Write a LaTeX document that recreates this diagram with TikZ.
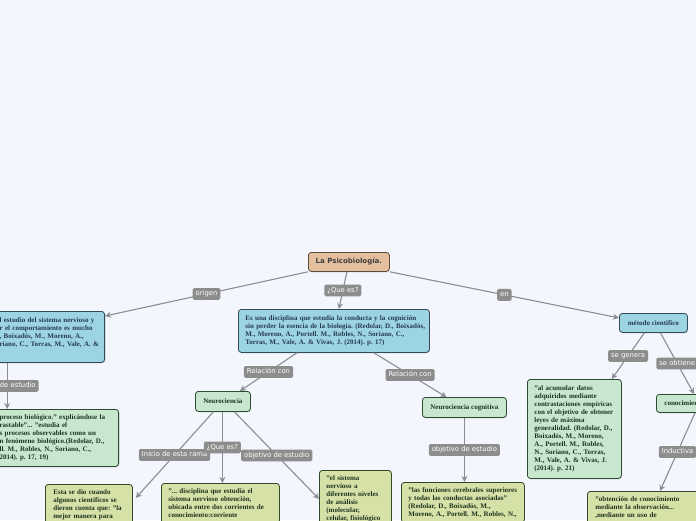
\documentclass[tikz,border=0pt]{standalone}
\usepackage{fontspec}
\setmainfont{Liberation Serif}
\newfontfamily\lblfont{DejaVu Sans}
\usetikzlibrary{arrows.meta,shadows}
\definecolor{bgcol}{HTML}{F3F6FD}
\definecolor{boxblue}{HTML}{9CD4E2}
\definecolor{blueline}{HTML}{34495A}
\definecolor{bluetext}{HTML}{263A52}
\definecolor{boxgreen}{HTML}{C9E7CF}
\definecolor{greenline}{HTML}{2C4C30}
\definecolor{boxolive}{HTML}{D5E1A7}
\definecolor{oliveline}{HTML}{2F4A24}
\definecolor{greentext}{HTML}{1E321F}
\definecolor{boxroot}{HTML}{E3BF9D}
\definecolor{rootline}{HTML}{5E4A3C}
\definecolor{lblgray}{HTML}{8D8D8D}
\definecolor{linegray}{HTML}{8A8D93}
% lines of a box, never broken again
\newcommand\boxtext[1]{\begin{tabular}{@{}l@{}}#1\end{tabular}}
\begin{document}
\begin{tikzpicture}[x=1pt,y=-1pt,
    box/.style={draw, rounded corners=3pt, line width=0.8pt, align=left, inner ysep=4pt,
      font=\fontsize{7}{8}\selectfont\bfseries\frenchspacing,
      drop shadow={shadow xshift=0.5pt, shadow yshift=-1pt, opacity=0.3}},
    bluebox/.style={box, fill=boxblue, draw=blueline, text=bluetext},
    greenbox/.style={box, fill=boxgreen, draw=greenline, text=greentext},
    olivebox/.style={box, fill=boxolive, draw=oliveline, text=greentext},
    rootbox/.style={box, fill=boxroot, draw=rootline, text=black!75, align=center,
      font=\lblfont\fontsize{7}{8}\selectfont\bfseries},
    lbl/.style={fill=lblgray, text=white, rounded corners=1.5pt, inner xsep=3pt, inner ysep=2.5pt,
      text height=5.3pt, text depth=1.5pt, font=\lblfont\fontsize{6.8}{8}\selectfont},
    conn/.style={draw=linegray, line width=1.1pt, -{Stealth[length=6pt,width=6pt]}}]
  \fill[bgcol] (0,0) rectangle (696,520);
  \useasboundingbox (0,0) rectangle (696,520);
  \clip (0,0) rectangle (696,520);
  % centre
  \node[rootbox, anchor=north west, minimum width=81pt, minimum height=19pt] (root) at (308,252) {La Psicobiología.};
  \node[bluebox, anchor=north west, inner xsep=7pt, text width=177pt, minimum height=43pt] (def) at (238,309)
    {\boxtext{Es una disciplina que estudia la conducta y la cognición\\ sin perder la esencia de la biología. (Redolar, D., Boixadós,\\ M., Moreno, A., Portell. M., Robles, N., Soriano, C.,\\ Torras, M., Vale, A. \& Vivas, J. (2014).  p. 17)}};
  % left branch, cut by the border
  \node[bluebox, anchor=north east, inner xsep=5pt, text width=100pt, minimum height=51pt] (orig) at (105,311)
    {\boxtext{l estudio del sistema nervioso y\\ r el comportamiento es mucho\\ , Boixadós, M., Moreno, A.,\\ riano, C., Torras, M., Vale, A. \&\\ \mbox{}}};
  \node[greenbox, anchor=north east, inner xsep=6pt, text width=113pt, minimum height=57pt] (proc) at (119,409)
    {\boxtext{ proceso biológico." explicándose la\\ rastable"... "estudia el\\ s procesos observables como un\\ n fenómeno biológico.(Redolar, D.,\\ ll. M., Robles, N., Soriano, C.,\\ 2014).  p. 17, 19)}};
  % neurociencia
  \node[greenbox, anchor=north west, align=center, minimum width=55pt, minimum height=20pt] (neuro) at (195,391) {Neurociencia};
  \node[olivebox, anchor=north west, inner xsep=8pt, text width=71pt] (inicio) at (45,484)
    {\boxtext{Esta se dio cuando\\ algunos científicos se\\ dieron cuenta que: "la\\ mejor manera para}};
  \node[olivebox, anchor=north west, inner xsep=7pt, text width=104pt] (disc) at (161,483)
    {\boxtext{"... disciplina que estudia el\\ sistema nervioso obtención,\\ ubicada entre dos corrientes de\\ conocimiento:corriente}};
  \node[olivebox, anchor=north west, inner xsep=7pt, text width=58pt] (niveles) at (319,470)
    {\boxtext{"el sistema\\ nervioso a\\ diferentes niveles\\ de análisis\\ (molecular,\\ celular, fisiológico}};
  % neurociencia cognitiva
  \node[greenbox, anchor=north west, align=center, minimum width=84pt, minimum height=20pt] (cogn) at (422,397) {Neurociencia cognitiva};
  \node[olivebox, anchor=north west, inner xsep=7pt, text width=109pt] (func) at (401,482)
    {\boxtext{"las funciones cerebrales superiores\\ y todas las conductas asociadas"\\ (Redolar, D., Boixadós, M.,\\ Moreno, A., Portell. M., Robles, N.,}};
  % metodo
  \node[bluebox, anchor=north west, align=center, minimum width=68pt, minimum height=19pt] (metodo) at (619,313) {método científico};
  \node[greenbox, anchor=north west, inner xsep=7pt, text width=80pt, minimum height=99pt] (datos) at (527,379)
    {\boxtext{"al acumular datos\\ adquiridos mediante\\ contrastaciones empíricas\\ con el objetivo de obtener\\ leyes de máxima\\ generalidad. (Redolar, D.,\\ Boixadós, M., Moreno,\\ A., Portell. M., Robles,\\ N., Soriano, C., Torras,\\ M., Vale, A. \& Vivas, J.\\ (2014).  p. 21)}};
  \node[greenbox, anchor=north west, inner xsep=8pt, text width=80pt, minimum height=18pt] (conoc) at (656,394) {conocimiento};
  \node[olivebox, anchor=north west, inner xsep=8pt, text width=110pt] (obs) at (587,491)
    {\boxtext{"obtención de conocimiento\\ mediante la observación...\\ ,mediante un uso de}};
  % connectors
  \draw[conn] (root.south west) -- node[lbl] {origen} ([yshift=-5pt]orig.north east);
  \draw[conn] ([xshift=-2pt]root.south) -- node[lbl] {¿Que es?} ([xshift=5pt]def.north);
  \draw[conn] (root.south east) -- node[lbl] {en} ([yshift=5pt]metodo.west);
  \draw[conn] ([xshift=13pt]orig.south west) -- node[lbl, anchor=east, xshift=32pt] {de estudio} ([xshift=14pt]proc.north west);
  \draw[conn] ([xshift=59pt]def.south west) -- node[lbl] {Relación con} ([xshift=17pt]neuro.north);
  \draw[conn] ([xshift=-56pt]def.south east) -- node[lbl] {Relación con} ([xshift=-18pt]cogn.north);
  \draw[conn] ([xshift=-9.5pt]neuro.south) -- node[lbl] {Inicio de esta rama} ([xshift=3pt,yshift=-14pt]inicio.north east);
  \draw[conn] ([xshift=-0.5pt]neuro.south) -- node[lbl] {¿Que es?} ([xshift=2pt]disc.north);
  \draw[conn] ([xshift=11.5pt]neuro.south) -- node[lbl] {objetivo de estudio} ([yshift=-29pt]niveles.north west);
  \draw[conn] (cogn.south) -- node[lbl] {objetivo de estudio} (cogn.south |- func.north);
  \draw[conn] ([xshift=-9pt]metodo.south) -- node[lbl] {se genera} ([xshift=-10pt]datos.north east);
  \draw[conn] ([xshift=7pt]metodo.south) -- node[lbl] {se obtiene} ([xshift=38pt]conoc.north west);
  \draw[conn] ([xshift=39pt]conoc.south west) -- node[lbl] {Inductiva} ([xshift=73pt]obs.north west);
\end{tikzpicture}
\end{document}
